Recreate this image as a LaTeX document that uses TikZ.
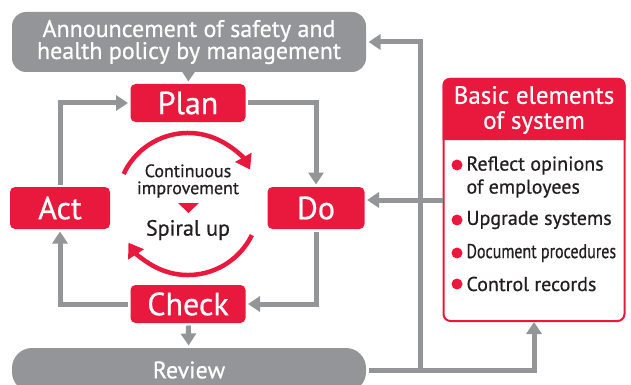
\documentclass[tikz,border=0pt]{standalone}
\usepackage{fontspec}
\setmainfont{PT Sans}[FakeBold=0.6]
\newfontfamily\narrowfont{PT Sans}[FakeStretch=0.8,FakeBold=0.6]
\usetikzlibrary{arrows.meta,positioning}
\definecolor{pdcared}{HTML}{E8193C}
\definecolor{pdcagray}{HTML}{939598}
\definecolor{pdcatext}{HTML}{231F20}

\begin{document}
\begin{tikzpicture}[x=1pt,y=-1pt,>={Triangle[width=15pt,length=12pt]},line width=5pt,
    phase/.style={fill=pdcared,text=white,rounded corners=5pt,minimum width=115pt,minimum height=38pt,inner sep=0pt,font=\fontsize{32}{32}\selectfont},
    banner/.style={fill=pdcagray,text=white,minimum width=354pt,inner sep=0pt,align=center,font=\fontsize{24}{22}\selectfont},
    link/.style={draw=pdcagray,->},
    spiral/.style={draw=pdcared,line width=4.5pt,->,>={Triangle[width=18pt,length=14pt]}},
    item/.style={anchor=west,inner sep=0pt,align=left,text=pdcatext,font=\fontsize{20}{23}\selectfont}]
    \useasboundingbox (0,0) rectangle (631,385);
    % policy and review bars
    \node[banner,rounded corners=14pt,minimum height=60pt] (announce) at (189,42) {Announcement of safety and\\health policy by management};
    \node[banner,rounded corners=20pt,minimum height=44pt,font=\fontsize{24}{24}\selectfont] (review) at (189,370) {Review};
    % PDCA
    \node[phase] (plan) at (188,103) {Plan};
    \node[phase,minimum width=100pt,minimum height=42pt] (act) at (60,208) {Act};
    \node[phase,minimum width=97pt,minimum height=42pt] (do) at (316,208) {Do};
    \node[phase] (check) at (188,304) {Check};
    \draw[link] (announce) -- (plan);
    \draw[link] (plan.east) -| (do.north);
    \draw[link] (do.south) |- (check.east);
    \draw[link] (check.west) -| (act.south);
    \draw[link] (act.north) |- (plan.west);
    \draw[link] (check) -- (review);
    % spiral in the middle
    \draw[spiral] (188,204) ++(205:71) arc[start angle=205,end angle=331,radius=71];
    \draw[spiral] (188,204) ++(26:71) arc[start angle=26,end angle=147,radius=71];
    \node[text=pdcatext,align=center,font=\fontsize{18}{17}\selectfont] (cont) at (188,181) {Continuous\\improvement};
    \fill[pdcared] (178,203) -- (199,203) -- (188.5,213) -- cycle;
    \node[text=pdcatext,font=\fontsize{22}{22}\selectfont] (spiralup) at (188,230) {Spiral up};
    % basic elements
    \node[draw=pdcared,line width=2pt,rounded corners=7pt,minimum width=181pt,minimum height=242pt,inner sep=0pt] (elements) at (534,200) {};
    \fill[pdcared] (elements.west |- 0,140) [rounded corners=7pt] -- (elements.north west) -- (elements.north east) [sharp corners] -- (elements.east |- 0,140) -- cycle;
    \node[text=white,align=center,font=\fontsize{25}{25}\selectfont] (head) at (534,110) {Basic elements\\of system};
    \foreach \by/\ty/\txt in {165/177/{Reflect opinions\\of employees},220/220/Upgrade systems,253/253/{\narrowfont Document procedures},284/284/Control records} {
      \fill[pdcared] (457,\by) circle (5.5pt);
      \node[item] (elem\by) at (464,\ty) {\txt};
    }
    \coordinate (bus) at (420,370);
    \draw[link] (review.east) -| (elements.south);
    \draw[link] (bus) |- (announce.east);
    \draw[link] (elements.west) -- (elements.west -| do.east);
  \end{tikzpicture}
\end{document}
